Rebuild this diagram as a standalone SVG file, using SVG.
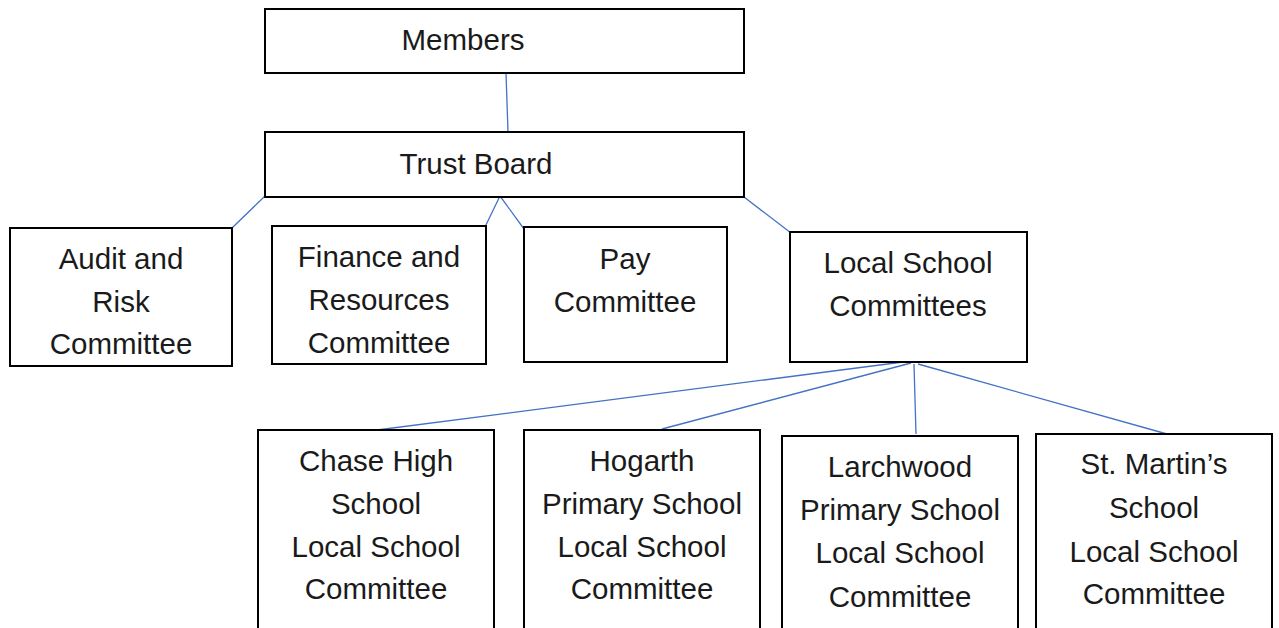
<svg xmlns="http://www.w3.org/2000/svg" width="1279" height="628" viewBox="0 0 1279 628">
  <style>
    .box { fill: #ffffff; stroke: #000000; stroke-width: 2; }
    .lbl { font-family: "Liberation Sans", Arial, sans-serif; font-size: 29.5px; fill: #1a1a1a; text-anchor: middle; }
    .link { stroke: #4472C4; stroke-width: 1.3; fill: none; }
  </style>
  <rect x="0" y="0" width="1279" height="628" fill="#ffffff"/>

  <!-- connectors -->
  <g id="connectors">
    <line class="link" x1="506" y1="73" x2="508" y2="132"/>
    <line class="link" x1="265" y1="196" x2="232" y2="228"/>
    <line class="link" x1="500" y1="196" x2="484" y2="229"/>
    <line class="link" x1="500" y1="196" x2="524" y2="229"/>
    <line class="link" x1="744" y1="197" x2="791" y2="233"/>
    <line class="link" x1="903" y1="362" x2="377" y2="430"/>
    <line class="link" x1="911" y1="363" x2="662" y2="429"/>
    <line class="link" x1="914" y1="364" x2="916" y2="434"/>
    <line class="link" x1="918" y1="364" x2="1167" y2="434"/>
  </g>

  <g id="members">
    <rect class="box" x="265" y="9" width="479" height="64"/>
    <text class="lbl" x="463" y="50">Members</text>
  </g>

  <g id="trust-board">
    <rect class="box" x="265" y="132" width="479" height="65"/>
    <text class="lbl" x="476" y="174">Trust Board</text>
  </g>

  <g id="audit-risk">
    <rect class="box" x="10" y="228" width="222" height="138"/>
    <text class="lbl" x="121" y="269">Audit and</text>
    <text class="lbl" x="121" y="312">Risk</text>
    <text class="lbl" x="121" y="354">Committee</text>
  </g>

  <g id="finance-resources">
    <rect class="box" x="272" y="226" width="214" height="138"/>
    <text class="lbl" x="379" y="267">Finance and</text>
    <text class="lbl" x="379" y="310">Resources</text>
    <text class="lbl" x="379" y="353">Committee</text>
  </g>

  <g id="pay">
    <rect class="box" x="524" y="227" width="203" height="135"/>
    <text class="lbl" x="625" y="269">Pay</text>
    <text class="lbl" x="625" y="312">Committee</text>
  </g>

  <g id="local-school-committees">
    <rect class="box" x="790" y="232" width="237" height="130"/>
    <text class="lbl" x="908" y="273">Local School</text>
    <text class="lbl" x="908" y="316">Committees</text>
  </g>

  <g id="chase-high">
    <rect class="box" x="258" y="430" width="236" height="210"/>
    <text class="lbl" x="376" y="471">Chase High</text>
    <text class="lbl" x="376" y="514">School</text>
    <text class="lbl" x="376" y="557">Local School</text>
    <text class="lbl" x="376" y="599">Committee</text>
  </g>

  <g id="hogarth">
    <rect class="box" x="524" y="430" width="236" height="210"/>
    <text class="lbl" x="642" y="471">Hogarth</text>
    <text class="lbl" x="642" y="514">Primary School</text>
    <text class="lbl" x="642" y="557">Local School</text>
    <text class="lbl" x="642" y="599">Committee</text>
  </g>

  <g id="larchwood">
    <rect class="box" x="782" y="436" width="236" height="210"/>
    <text class="lbl" x="900" y="477">Larchwood</text>
    <text class="lbl" x="900" y="520">Primary School</text>
    <text class="lbl" x="900" y="563">Local School</text>
    <text class="lbl" x="900" y="607">Committee</text>
  </g>

  <g id="st-martins">
    <rect class="box" x="1036" y="434" width="236" height="210"/>
    <text class="lbl" x="1154" y="474">St. Martin’s</text>
    <text class="lbl" x="1154" y="518">School</text>
    <text class="lbl" x="1154" y="562">Local School</text>
    <text class="lbl" x="1154" y="604">Committee</text>
  </g>
</svg>
